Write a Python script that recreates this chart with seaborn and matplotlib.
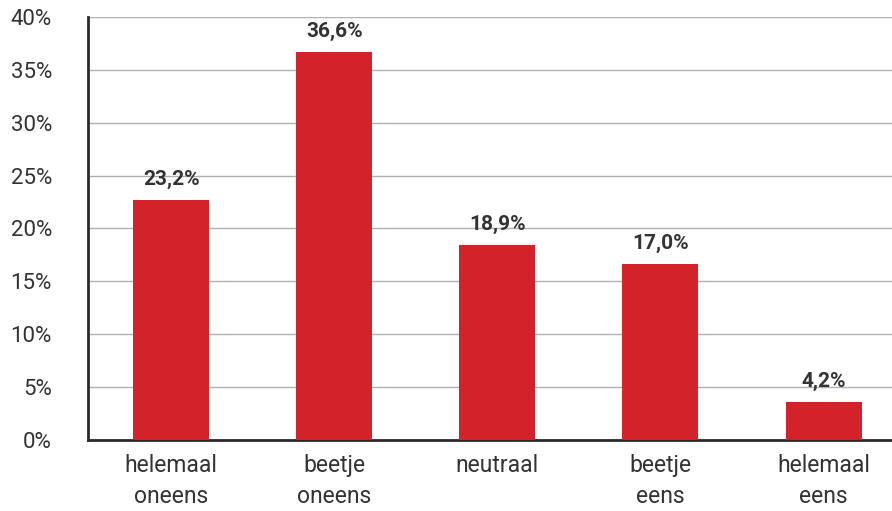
import matplotlib
matplotlib.use("Agg")
import pandas as pd
import seaborn as sns
import matplotlib.pyplot as plt

categories = ["helemaal\noneens", "beetje\noneens", "neutraal", "beetje\neens", "helemaal\neens"]
bar_heights = [22.7, 36.7, 18.4, 16.6, 3.6]
value_labels = ["23,2%", "36,6%", "18,9%", "17,0%", "4,2%"]
y_ticks = [0, 5, 10, 15, 20, 25, 30, 35, 40]

df = pd.DataFrame({"Antwoord": categories, "Percentage": bar_heights})

sns.set_style("white")
plt.rcParams["font.family"] = ["Roboto", "DejaVu Sans"]

fig = plt.figure(figsize=(8.92, 5.11), dpi=100)
ax = fig.add_axes([0.0987, 0.139, 0.9013, 0.828])

sns.barplot(data=df, x="Antwoord", y="Percentage", color="#D2232A",
            saturation=1, width=0.466, linewidth=0, ax=ax, zorder=3)

for i, (h, lab) in enumerate(zip(bar_heights, value_labels)):
    ax.annotate(lab, (i, h), xytext=(0, 8), textcoords="offset points",
                ha="center", va="bottom", fontsize=15, fontweight="bold",
                color="#333333")

ax.set_ylim(0, 40)
ax.set_xlim(-0.51, 4.42)
ax.set_yticks(y_ticks)
ax.set_yticklabels([f"{t}%" for t in y_ticks])
ax.yaxis.grid(True, color="#b0b0b0", linewidth=1, zorder=0)
ax.set_axisbelow(True)
ax.set_xlabel("")
ax.set_ylabel("")
ax.tick_params(axis="y", length=0, pad=26, labelsize=16, labelcolor="#333333")
ax.tick_params(axis="x", length=0, pad=10, labelsize=16.5, labelcolor="#333333")
for t in ax.get_xticklabels():
    t.set_linespacing(1.45)

for s in ["top", "right"]:
    ax.spines[s].set_visible(False)
for s in ["left", "bottom"]:
    ax.spines[s].set_color("#2a2a2a")
    ax.spines[s].set_linewidth(2)

fig.savefig("out.png", dpi=100)
